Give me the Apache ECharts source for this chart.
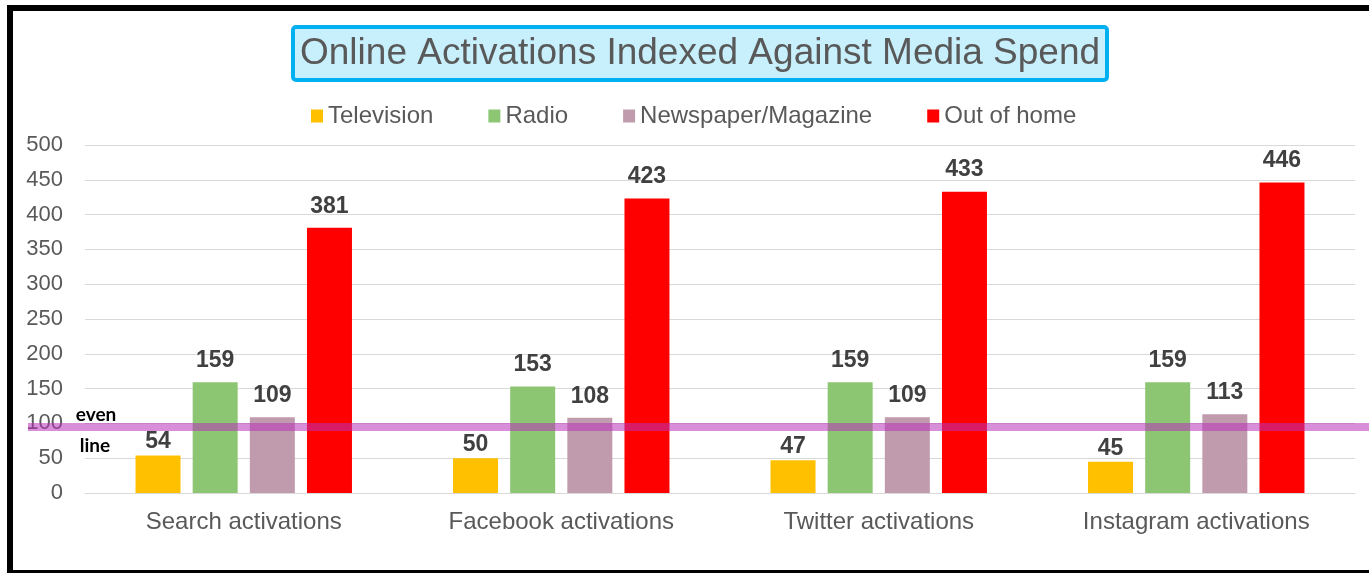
<!DOCTYPE html>
<html>
<head>
<meta charset="utf-8">
<script src="https://cdn.jsdelivr.net/npm/echarts@6/dist/echarts.min.js"></script>
<style>
html,body{margin:0;padding:0;background:#fff;}
#chart{width:1369px;height:573px;}
</style>
</head>
<body>
<div id="chart"></div>
<script>
const titleText = 'Online Activations Indexed Against Media Spend';
const categories = ['Search activations', 'Facebook activations', 'Twitter activations', 'Instagram activations'];
const seriesNames = ['Television', 'Radio', 'Newspaper/Magazine', 'Out of home'];
const television = [54, 50, 47, 45];
const radio = [159, 153, 159, 159];
const newspaper = [109, 108, 109, 113];
const outOfHome = [381, 423, 433, 446];
const colors = ['#ffc000', '#8cc673', '#c09bad', '#ff0000'];
const yTicks = [0, 500, 50];
const evenLineValue = 95;

const chart = echarts.init(document.getElementById('chart'));
const font = '"Liberation Sans", Arial, sans-serif';
const allData = [television, radio, newspaper, outOfHome];

const series = allData.map((d, i) => ({
  name: seriesNames[i],
  type: 'bar',
  data: d,
  barWidth: 45,
  barGap: '27%',
  itemStyle: { color: colors[i] },
  label: {
    show: true,
    position: 'top',
    distance: i === 0 ? 2 : 10,
    fontFamily: font,
    fontSize: 23,
    fontWeight: 'bold',
    color: '#404040'
  }
}));

chart.setOption({
  animation: false,
  backgroundColor: '#fff',
  title: {
    text: titleText,
    left: 293,
    top: 27,
    padding: [8, 7, 8, 7],
    backgroundColor: '#c7effc',
    borderColor: '#00b0f0',
    borderWidth: 4,
    borderRadius: 3,
    textStyle: { fontFamily: font, fontSize: 37, fontWeight: 'normal', color: '#595959' }
  },
  legend: {
    left: 306,
    top: 99,
    itemWidth: 12,
    itemHeight: 13,
    itemGap: 55,
    icon: 'rect',
    textStyle: { fontFamily: font, fontSize: 24, color: '#595959' },
    data: seriesNames
  },
  grid: { left: 85, right: 14, top: 145, bottom: 80 },
  xAxis: {
    type: 'category',
    data: categories,
    axisLine: { lineStyle: { color: '#d9d9d9', width: 1 } },
    axisTick: { show: false },
    axisLabel: { fontFamily: font, fontSize: 24, color: '#595959', margin: 17 }
  },
  yAxis: {
    type: 'value',
    min: yTicks[0],
    max: yTicks[1],
    interval: yTicks[2],
    axisLine: { show: false },
    axisTick: { show: false },
    splitLine: { lineStyle: { color: '#d9d9d9', width: 1 } },
    axisLabel: { fontFamily: font, fontSize: 22, color: '#595959', margin: 22 }
  },
  series: series
});

const yLine = chart.convertToPixel({ yAxisIndex: 0 }, evenLineValue);
chart.setOption({
  graphic: [
    { type: 'rect', shape: { x: 7, y: 5, width: 1400, height: 6 }, style: { fill: '#000' }, z: 100 },
    { type: 'rect', shape: { x: 7, y: 5, width: 6, height: 568 }, style: { fill: '#000' }, z: 100 },
    { type: 'rect', shape: { x: 7, y: 570, width: 1400, height: 3 }, style: { fill: '#000' }, z: 100 },
    { type: 'rect', shape: { x: 28, y: yLine - 4, width: 1345, height: 8 }, style: { fill: 'rgba(185,50,185,0.55)' }, z: 50 },
    { type: 'text', x: 96, y: yLine - 12, style: { text: 'even', fontFamily: 'Lato, "Open Sans", sans-serif', fontSize: 19, fontWeight: 'bold', fill: '#000', align: 'center', verticalAlign: 'middle' }, z: 60 },
    { type: 'text', x: 95, y: yLine + 19, style: { text: 'line', fontFamily: 'Lato, "Open Sans", sans-serif', fontSize: 19, fontWeight: 'bold', fill: '#000', align: 'center', verticalAlign: 'middle' }, z: 60 }
  ]
});
</script>
</body>
</html>
